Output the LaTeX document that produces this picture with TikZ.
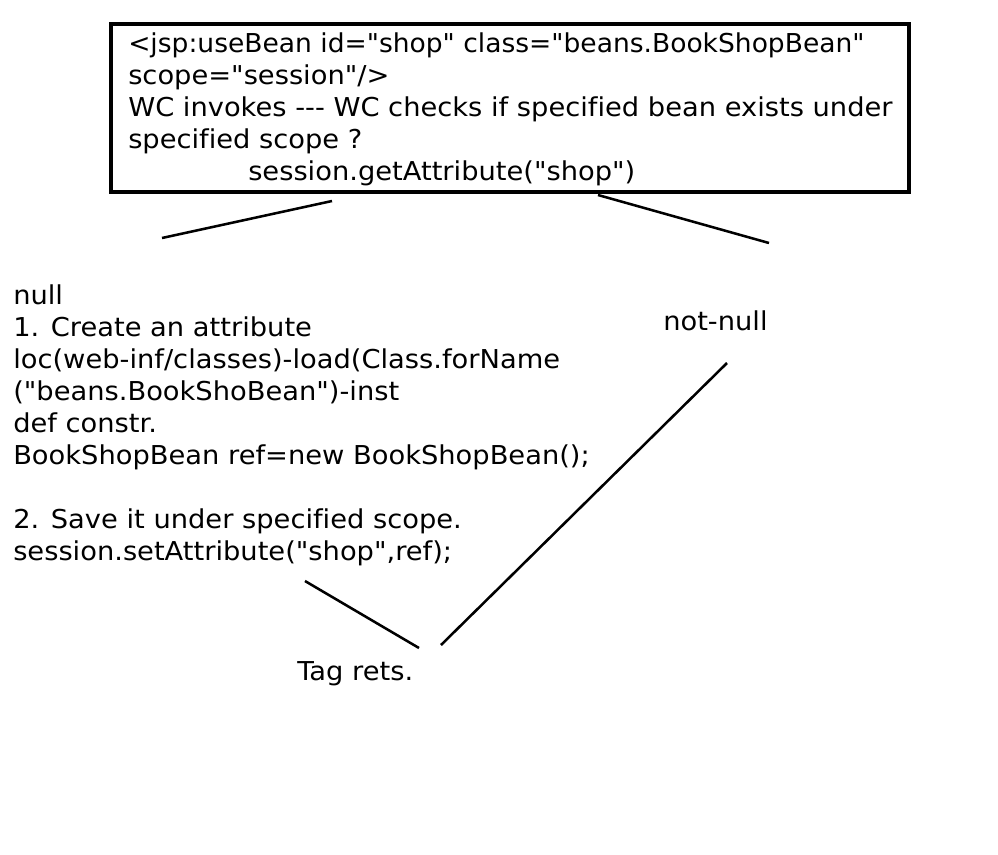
\documentclass[tikz,border=0pt]{standalone}
\usepackage{fontspec}
\setmainfont{DejaVu Sans}[Ligatures={TeXOff,CommonOff},FakeStretch=1.05]
\usetikzlibrary{positioning}

\begin{document}
\begin{tikzpicture}[
  x=0.75pt,y=-0.75pt,
  txt/.style={font=\fontsize{19.5}{24}\selectfont,align=left,
              inner sep=0pt,anchor=north west},
  beanbox/.style={rectangle,draw,line width=2.4pt,minimum width=598.5pt,
                  minimum height=126pt,inner sep=0pt},
  stroke/.style={line width=1.9pt},
]
  \useasboundingbox (0,0) rectangle (998,854);

  \node[beanbox] (bean) at (510,108) {};
  \node[txt] (beantext) at (128,32)
    {{\addfontfeature{FakeStretch=1.02}<jsp:useBean id="shop" class="beans.BookShopBean"}\\
     scope="session"/>\\
     WC invokes --- WC checks if specified bean exists under\\
     specified scope ?\\
     \hspace*{90pt}session.getAttribute("shop")};

  \node[txt] (isnull) at (13,284)
    {null\\
     1. Create an attribute\\
     loc(web-inf/classes)-load(Class.forName\\
     ("beans.BookShoBean")-inst\\
     def constr.\\
     BookShopBean ref=new BookShopBean();\\[24pt]
     2. Save it under specified scope.\\
     session.setAttribute("shop",ref);};

  \node[txt,anchor=base west] (notnull) at (663,330) {not-null};
  \node[txt,anchor=base west] (tagrets) at (297,680) {Tag rets.};

  % loose ends of the branches
  \coordinate (b1) at (332,201);  \coordinate (n1) at (162,238);
  \coordinate (b2) at (598,195);  \coordinate (nn1) at (769,243);
  \coordinate (n2) at (305,581);  \coordinate (t1) at (419,648);
  \coordinate (nn2) at (727,363); \coordinate (t2) at (441,645);

  \draw[stroke] (b1) -- (n1);
  \draw[stroke] (b2) -- (nn1);
  \draw[stroke] (n2) -- (t1);
  \draw[stroke] (nn2) -- (t2);
\end{tikzpicture}
\end{document}
